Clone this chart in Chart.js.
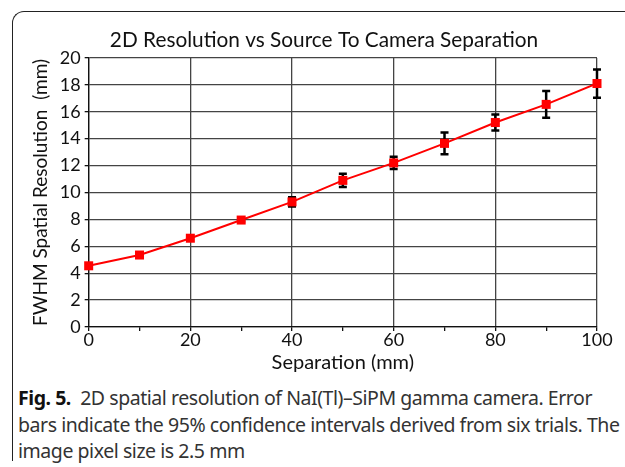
<!DOCTYPE html>
<html>
<head>
<meta charset="utf-8">
<script src="https://cdn.jsdelivr.net/npm/chart.js@4/dist/chart.umd.min.js"></script>
<style>
  body { margin: 0; background: #fff; }
  #wrap { position: relative; width: 625px; height: 467px; overflow: hidden; }
  #frame { position: absolute; left: 12px; top: 11px; width: 700px; height: 449px;
           border-left: 1.3px solid #222; border-top: 1.3px solid #222; border-top-left-radius: 12px; }
  #box { position: absolute; left: 13px; top: 12px; width: 612px; height: 361px; }
  #caption { position: absolute; left: 18px; top: 385px; width: 608px;
             font-family: "Noto Sans", sans-serif; font-size: 19.5px; line-height: 26.5px;
             color: #333; letter-spacing: -0.45px; }
  #caption b { color: #111; }
</style>
</head>
<body>
<div id="wrap">
  <div id="frame"></div>
  <div id="box"><canvas id="chart"></canvas></div>
  <div id="caption"><b>Fig. 5.</b>&nbsp; 2D spatial resolution of NaI(Tl)–SiPM gamma camera. Error bars indicate the 95% confidence intervals derived from six trials. The image pixel size is 2.5 mm</div>
</div>
<script>
var separation = [0, 10, 20, 30, 40, 50, 60, 70, 80, 90, 100];
var fwhm = [4.55, 5.35, 6.6, 7.95, 9.3, 10.9, 12.2, 13.65, 15.2, 16.55, 18.1];
// half width of the 95% confidence interval
var ci95 = [0, 0, 0, 0.1, 0.35, 0.5, 0.45, 0.8, 0.6, 1.0, 1.05];

var errorBars = {
  id: 'errorBars',
  afterLayout: function(chart){
    // Excel centres the title over the whole figure, a bit right of ours
    chart.titleBlock.left += 26;
  },
  afterDatasetsDraw: function(chart){
    var ctx = chart.ctx;
    var xs = chart.scales.x, ys = chart.scales.y;
    ctx.save();
    ctx.strokeStyle = '#000';
    ctx.lineWidth = 2.5;
    for (var i = 0; i < separation.length; i++){
      if (!ci95[i]) continue;
      var px = xs.getPixelForValue(separation[i]);
      var top = ys.getPixelForValue(fwhm[i] + ci95[i]);
      var bot = ys.getPixelForValue(fwhm[i] - ci95[i]);
      ctx.beginPath();
      ctx.moveTo(px, top); ctx.lineTo(px, bot);
      ctx.moveTo(px - 4, top); ctx.lineTo(px + 4, top);
      ctx.moveTo(px - 4, bot); ctx.lineTo(px + 4, bot);
      ctx.stroke();
    }
    ctx.restore();
    // redraw the points on top of the bars
    chart.getDatasetMeta(0).data.forEach(function(pt){
      ctx.save();
      ctx.fillStyle = '#ff0000';
      ctx.fillRect(pt.x - 4.5, pt.y - 4.5, 9, 9);
      ctx.restore();
    });
  }
};

var points = separation.map(function(s, i){ return {x: s, y: fwhm[i]}; });

new Chart(document.getElementById('chart'), {
  type: 'scatter',
  data: {
    datasets: [{
      data: points,
      showLine: true,
      borderColor: '#ff0000',
      backgroundColor: '#ff0000',
      borderWidth: 2,
      pointStyle: 'rect',
      pointRadius: 5,
      pointBorderWidth: 0
    }]
  },
  options: {
    responsive: true,
    maintainAspectRatio: false,
    animation: false,
    layout: { padding: { left: 12, right: 28, top: 10, bottom: 0 } },
    plugins: {
      legend: { display: false },
      tooltip: { enabled: false },
      title: {
        display: true,
        text: '2D Resolution vs Source To Camera Separation',
        color: '#111',
        font: { family: 'Lato', size: 20.8, weight: 'normal' },
        padding: { top: 6, bottom: 5 }
      }
    },
    scales: {
      x: {
        type: 'linear', min: 0, max: 100,
        ticks: {
          stepSize: 10, color: '#111',
          font: { family: 'Lato', size: 18, lineHeight: 1 },
          padding: 0,
          callback: function(v){ return v % 20 === 0 ? v : ''; }
        },
        grid: {
          color: function(c){ return c.tick && c.tick.value % 20 === 0 ? '#444' : 'rgba(0,0,0,0)'; },
          tickColor: '#111',
          tickLength: 4,
          lineWidth: 1.3
        },
        border: { color: '#111', width: 1.3 },
        title: { display: true, text: 'Separation (mm)', color: '#111',
                 font: { family: 'Lato', size: 20, lineHeight: 1 }, padding: { top: 4, bottom: 0 } }
      },
      y: {
        min: 0, max: 20,
        ticks: { stepSize: 2, color: '#111', font: { family: 'Lato', size: 18 }, padding: 4 },
        grid: { color: '#444', lineWidth: 1.3, tickLength: 4, tickColor: '#111' },
        border: { color: '#111', width: 1.3 },
        title: { display: true, text: 'FWHM Spatial Resolution  (mm)', color: '#111',
                 font: { family: 'Lato', size: 19 }, padding: { bottom: 4 } }
      }
    }
  },
  plugins: [errorBars]
});
</script>
</body>
</html>
